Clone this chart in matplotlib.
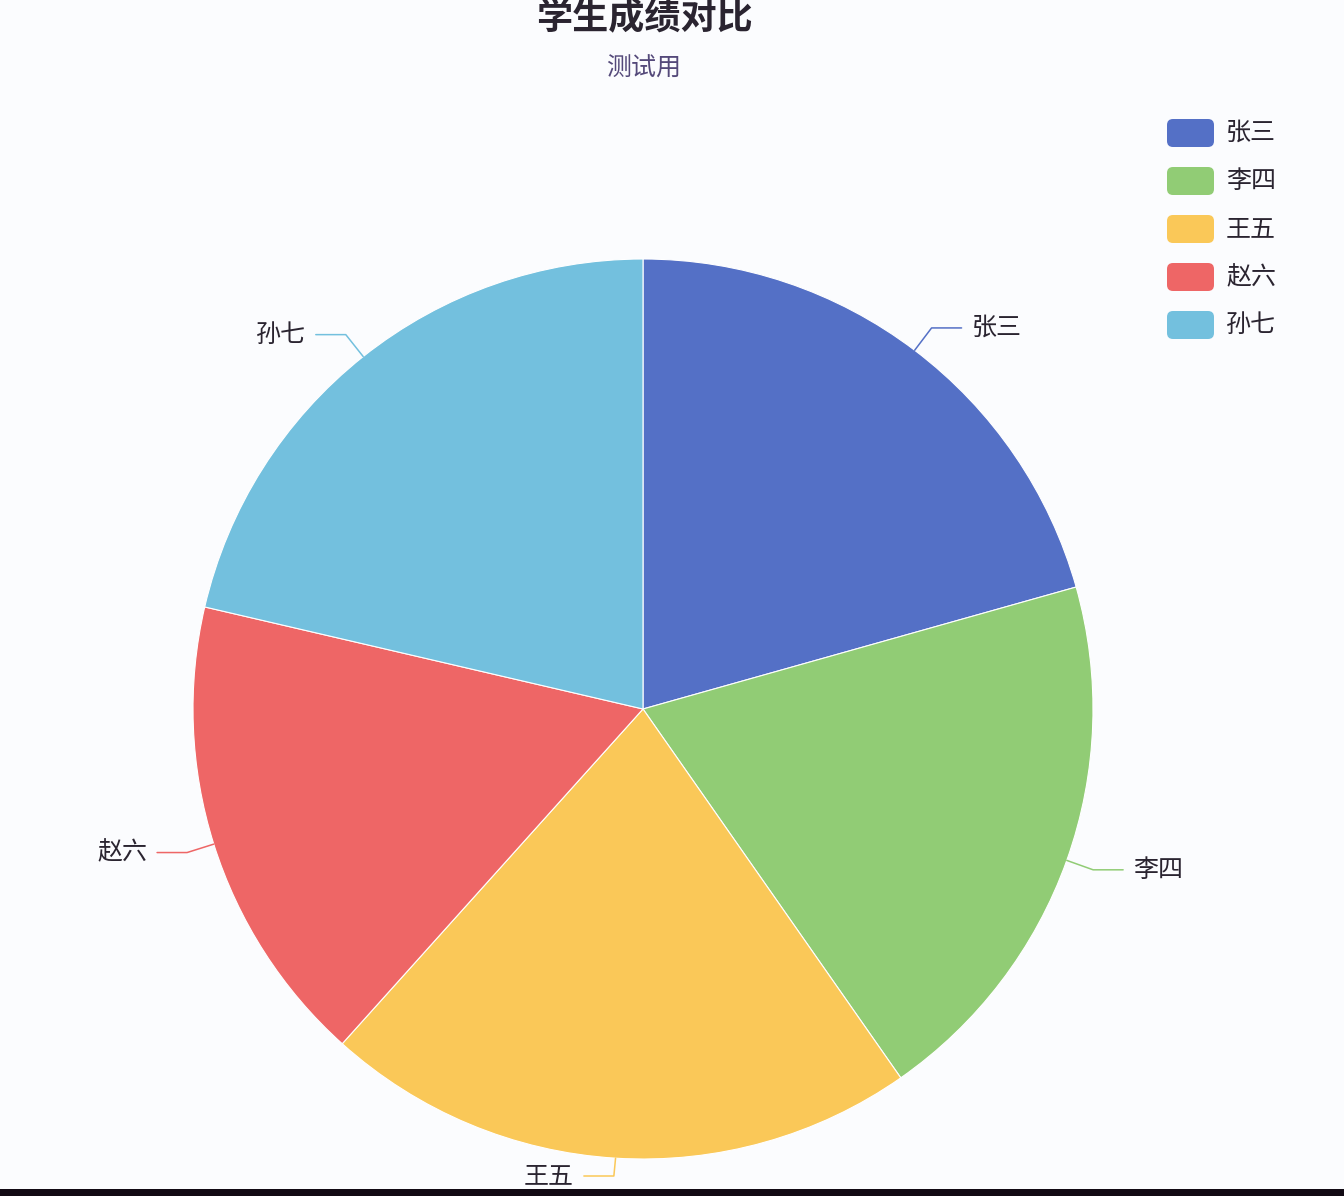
import numpy as np
import matplotlib.pyplot as plt
from matplotlib.patches import FancyBboxPatch, Rectangle

plt.rcParams['font.family'] = ['Noto Sans CJK SC', 'DejaVu Sans']

names = ['张三', '李四', '王五', '赵六', '孙七']
scores = [85, 81, 88, 70, 88]
colors = ['#5470c6', '#91cc75', '#fac858', '#ee6666', '#73c0de']
title = '学生成绩对比'
subtitle = '测试用'

W, H = 1344, 1196
BG, TEXT = '#fbfcfe', '#2a2430'
CX, CY, R = 643, H - 709, 450

fig = plt.figure(figsize=(W / 100, H / 100), dpi=100)
fig.patch.set_facecolor(BG)
ax = fig.add_axes([0, 0, 1, 1])
ax.set_facecolor(BG)

wedges, _ = ax.pie(scores, colors=colors, startangle=90, counterclock=False, center=(CX, CY), radius=R,
                   wedgeprops=dict(edgecolor='white', linewidth=0.8), frame=True)

# label lines: out from slice middle, elbow, then horizontal run
for w, name, col in zip(wedges, names, colors):
    mid = np.deg2rad((w.theta1 + w.theta2) / 2)
    x0, y0 = CX + R * np.cos(mid), CY + R * np.sin(mid)
    x1, y1 = CX + 478 * np.cos(mid), CY + 478 * np.sin(mid)
    y1 = max(y1, 20)
    side = 1 if np.cos(mid) >= 0 else -1
    x2 = x1 + side * 30
    ax.plot([x0, x1, x2], [y0, y1, y1], color=col, lw=1.1, solid_capstyle='round', zorder=3)
    ax.text(x2 + side * 10, y1, name, ha='left' if side > 0 else 'right', va='center', fontsize=18, color=TEXT)

ax.text(644, H - 18, title, ha='center', va='center', fontsize=26, fontweight='bold', color=TEXT)
ax.text(644, H - 69, subtitle, ha='center', va='center', fontsize=18, color='#54497a')

for i, (name, col) in enumerate(zip(names, colors)):
    yc = H - (133 + 48 * i)
    ax.add_patch(FancyBboxPatch((1167, yc - 14), 47, 28, boxstyle='round,pad=0,rounding_size=6',
                                facecolor=col, edgecolor='none'))
    ax.text(1226, yc, name, ha='left', va='center', fontsize=18, color=TEXT)

ax.add_patch(Rectangle((0, 0), W, 7, facecolor='#120a14', edgecolor='none', zorder=5))

ax.set_xlim(0, W)
ax.set_ylim(0, H)
ax.set_aspect('auto')
ax.axis('off')

plt.savefig('out.png', dpi=100, facecolor=BG)
